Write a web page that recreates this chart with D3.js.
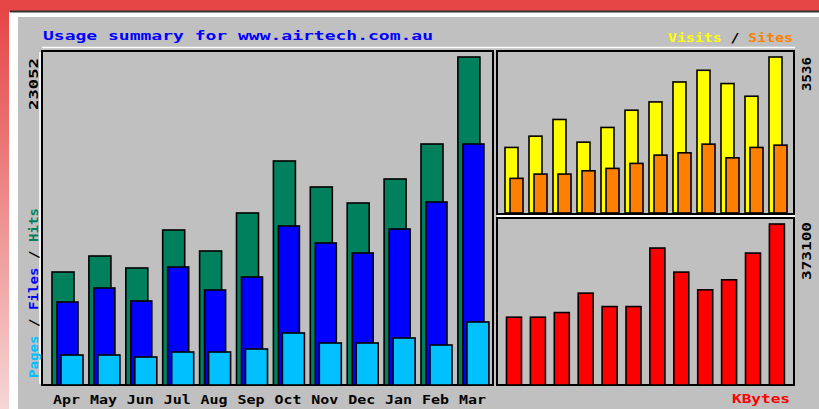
<!DOCTYPE html>
<meta charset="utf-8">
<html>
<head>
<script src="https://cdn.jsdelivr.net/npm/d3@7"></script>
<style>
  body { margin: 0; background: #e64646; }
  text { font-family: "DejaVu Sans Mono", monospace; font-weight: bold; }
</style>
</head>
<body>
<script>
// monthly usage numbers
var months = ["Apr", "May", "Jun", "Jul", "Aug", "Sep", "Oct", "Nov", "Dec", "Jan", "Feb", "Mar"];
var hits   = [7942, 9066, 8223, 10894, 9418, 12089, 15743, 13916, 12791, 14478, 16938, 23052];
var files  = [5833, 6817, 5904, 8293, 6677, 7590, 11175, 9980, 9277, 10964, 12861, 16938];
var pages  = [2108, 2108, 1968, 2319, 2319, 2530, 3655, 2952, 2952, 3303, 2811, 4428];
var visits = [1486, 1742, 2120, 1606, 1939, 2330, 2518, 2970, 3235, 2934, 2647, 3536];
var sites  = [785, 882, 882, 957, 1011, 1124, 1312, 1364, 1561, 1251, 1486, 1538];
var kbytes = [157180, 157180, 167860, 212900, 181780, 181780, 317390, 261650, 220570, 243780, 305760, 373100];
var title = "Usage summary for www.airtech.com.au";

var W = 819, H = 409;
var svg = d3.select("body").append("svg").attr("width", W).attr("height", H);

// frame: red border, white bevel, grey face
var defs = svg.append("defs");
var g1 = defs.append("linearGradient").attr("id", "side").attr("x1", 0).attr("y1", 0).attr("x2", 0).attr("y2", 1);
g1.append("stop").attr("offset", "0%").attr("stop-color", "#e64646");
g1.append("stop").attr("offset", "100%").attr("stop-color", "#f6d6d6");
svg.append("rect").attr("width", W).attr("height", H).attr("fill", "#e64646");
svg.append("rect").attr("x", 0).attr("y", 12).attr("width", 9).attr("height", H - 12).attr("fill", "url(#side)");
svg.append("rect").attr("x", 9).attr("y", 12).attr("width", W - 9).attr("height", H - 12).attr("fill", "#ffffff");
svg.append("line").attr("x1", 10).attr("x2", W).attr("y1", 11.5).attr("y2", 11.5).attr("stroke", "#333").attr("stroke-width", 2);
svg.append("rect").attr("x", 18).attr("y", 17).attr("width", W - 18).attr("height", H - 17).attr("fill", "#c0c0c0");

// white line above the panels
svg.append("line").attr("x1", 42).attr("x2", 795).attr("y1", 47.5).attr("y2", 47.5).attr("stroke", "#fff").attr("stroke-width", 1.5);

// panels
var panels = [[42, 51, 493, 385], [497, 51, 794, 214], [497, 218, 794, 385]];
panels.forEach(function (p) {
  svg.append("rect").attr("x", p[0]).attr("y", p[1]).attr("width", p[2] - p[0]).attr("height", p[3] - p[1])
    .attr("fill", "#c0c0c0").attr("stroke", "#000").attr("stroke-width", 2);
});
svg.append("line").attr("x1", 40).attr("x2", 40).attr("y1", 52).attr("y2", 384).attr("stroke", "#fff").attr("stroke-width", 1.5);
svg.append("line").attr("x1", 497).attr("x2", 795).attr("y1", 216).attr("y2", 216).attr("stroke", "#fff").attr("stroke-width", 2);

// scales
var xMain = d3.scaleBand().domain(months).range([52, 52 + 12 * 36.9]);
var yMain = d3.scaleLinear().domain([0, d3.max(hits)]).range([385, 57]);
var xVis = d3.scaleBand().domain(months).range([505, 505 + 12 * 24]);
var yVis = d3.scaleLinear().domain([0, d3.max(visits)]).range([213, 57]);
var xKB = d3.scaleBand().domain(months).range([506.5, 506.5 + 12 * 23.9]);
var yKB = d3.scaleLinear().domain([0, d3.max(kbytes)]).range([385, 224]);

function bars(vals, xs, ys, off, w, color) {
  svg.append("g").selectAll("rect").data(vals).enter().append("rect")
    .attr("x", function (d, i) { return xs(months[i]) + off; })
    .attr("y", function (d) { return ys(d); })
    .attr("width", w)
    .attr("height", function (d) { return ys(0) - ys(d); })
    .attr("fill", color)
    .attr("stroke", "#000")
    .attr("stroke-width", 1.6);
}

bars(hits, xMain, yMain, 0, 22, "#00805c");
bars(files, xMain, yMain, 5, 21, "#0000ff");
bars(pages, xMain, yMain, 9, 22, "#00c0ff");
bars(visits, xVis, yVis, 0, 13, "#ffff00");
bars(sites, xVis, yVis, 5, 13, "#ff8000");
bars(kbytes, xKB, yKB, 0, 15, "#ff0000");

// stretch text to the width it has in the picture
function fit(t, len) {
  return t.attr("textLength", len).attr("lengthAdjust", "spacingAndGlyphs");
}

// month labels
svg.append("g").selectAll("text").data(months).enter().append("text")
  .attr("x", function (d) { return xMain(d) + 1; })
  .attr("y", 404)
  .attr("font-size", 12)
  .attr("textLength", 27).attr("lengthAdjust", "spacingAndGlyphs")
  .attr("fill", "#000")
  .text(function (d) { return d; });

// title and legends
fit(svg.append("text").attr("x", 43).attr("y", 40).attr("font-size", 12)
  .attr("fill", "#0000ff").text(title), 390);

var lg = svg.append("text").attr("x", 668).attr("y", 42).attr("font-size", 12);
lg.append("tspan").attr("fill", "#ffff00").text("Visits");
lg.append("tspan").attr("fill", "#000").text(" / ");
lg.append("tspan").attr("fill", "#ff8000").text("Sites");
fit(lg, 125);

fit(svg.append("text").attr("x", 732).attr("y", 403).attr("font-size", 12)
  .attr("fill", "#ff0000").text("KBytes"), 58);

// vertical labels
var vl = svg.append("text").attr("transform", "translate(38,378) rotate(-90)").attr("font-size", 12);
vl.append("tspan").attr("fill", "#00c0ff").text("Pages");
vl.append("tspan").attr("fill", "#000").text(" / ");
vl.append("tspan").attr("fill", "#0000ff").text("Files");
vl.append("tspan").attr("fill", "#000").text(" / ");
vl.append("tspan").attr("fill", "#00805c").text("Hits");
fit(vl, 170);

function upText(x, y, s, len) {
  fit(svg.append("text").attr("transform", "translate(" + x + "," + y + ") rotate(-90)")
    .attr("font-size", 12).attr("text-anchor", "end").attr("fill", "#000").text(s), len);
}
upText(38, 58, d3.max(hits), 52);
upText(811, 57, d3.max(visits), 34);
upText(811, 222, d3.max(kbytes), 58);
</script>
</body>
</html>
